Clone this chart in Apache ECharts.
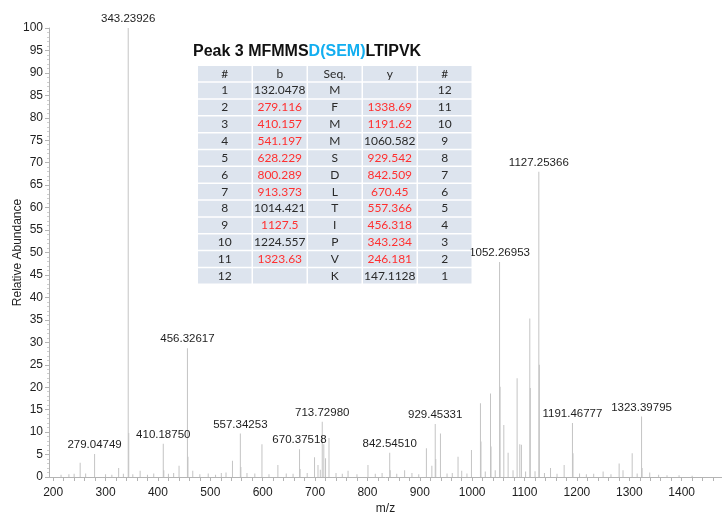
<!DOCTYPE html>
<html>
<head>
<meta charset="utf-8">
<title>Peak 3 MS/MS spectrum</title>
<script src="https://cdn.jsdelivr.net/npm/echarts@6/dist/echarts.min.js"></script>
<style>
  html, body { margin: 0; padding: 0; background: #fff; }
  #chart { width: 722px; height: 514px; }
</style>
</head>
<body>
<div id="chart"></div>
<script>
// labelled peaks (m/z, relative abundance)
const labelledMz = [279.04749, 343.23926, 410.18750, 456.32617, 557.34253, 670.37518, 713.72980,
  842.54510, 929.45331, 1052.26953, 1127.25366, 1191.46777, 1323.39795];
const labelledInt = [5.1, 100, 7.4, 28.7, 9.7, 6.2, 12.3, 5.4, 11.8, 47.9, 68, 12, 13.5];

// unlabelled peaks
const otherMz = [215, 230, 240, 251.5, 262, 300, 312, 325, 334, 344.24, 352, 366, 380, 392, 411.19,
  420, 430, 440.3, 457.33, 466.5, 480, 496, 510, 521, 530, 542.3, 558.35, 570, 585, 598.6, 612, 629,
  645, 658, 671.4, 685, 699, 705.6, 710, 716.7, 720, 726.6, 740, 752, 763, 780, 801, 815, 828, 843.5,
  856, 871, 885, 898, 912.6, 923, 930.45, 939.4, 952, 962, 973, 980, 990, 998.6, 1015.8, 1016.8, 1025,
  1035, 1036, 1044, 1053.27, 1060.4, 1068.6, 1078, 1085.8, 1090.9, 1094, 1102, 1110, 1111, 1120,
  1128.25, 1138, 1149.6, 1162, 1175.6, 1192.5, 1205, 1218, 1232, 1250, 1265, 1280.6, 1288, 1305.5,
  1315, 1324.4, 1339, 1356, 1372, 1395, 1420];
const otherInt = [0.5, 0.6, 0.7, 3.2, 0.8, 0.6, 0.5, 2.0, 0.7, 9.8, 0.6, 1.4, 0.5, 0.8, 1.5,
  0.7, 0.9, 2.5, 4.5, 1.4, 0.6, 0.8, 0.5, 0.9, 1.0, 3.6, 2.2, 0.9, 0.8, 7.3, 0.6, 2.7,
  0.8, 0.7, 1.8, 0.9, 4.4, 2.7, 1.6, 7.3, 4.2, 8.7, 0.9, 0.7, 1.4, 0.6, 2.7, 0.7, 0.9, 1.5,
  0.7, 1.5, 0.9, 0.6, 6.4, 2.5, 4.0, 9.7, 0.8, 0.9, 4.5, 1.4, 0.8, 6.0, 16.4, 7.9, 1.2,
  18.6, 6.8, 1.5, 20.1, 11.6, 5.4, 1.5, 22, 7.3, 7.2, 1.2, 35.3, 19.8, 1.3,
  25, 0.9, 2.0, 0.7, 2.7, 5.3, 0.8, 0.6, 0.7, 1.2, 0.6, 3.0, 1.5, 5.3,
  0.8, 2.0, 1.0, 0.5, 0.4, 0.4, 0.3];

// axis ticks
const xLabelTicks = [200, 300, 400, 500, 600, 700, 800, 900, 1000, 1100, 1200, 1300, 1400];
const xMinorTicks = [];
for (let v = 200; v <= 1460; v += 20) xMinorTicks.push(v);

// fragment table
const tableHeader = ['#', 'b', 'Seq.', 'y', '#'];
const rowNo = [1, 2, 3, 4, 5, 6, 7, 8, 9, 10, 11, 12];
const bIons = ['132.0478', '279.116', '410.157', '541.197', '628.229', '800.289', '913.373',
  '1014.421', '1127.5', '1224.557', '1323.63', ''];
const residues = ['M', 'F', 'M', 'M', 'S', 'D', 'L', 'T', 'I', 'P', 'V', 'K'];
const yIons = ['', '1338.69', '1191.62', '1060.582', '929.542', '842.509', '670.45', '557.366',
  '456.318', '343.234', '246.181', '147.1128'];
const yNo = [12, 11, 10, 9, 8, 7, 6, 5, 4, 3, 2, 1];
const bMatched = [0, 1, 1, 1, 1, 1, 1, 0, 1, 0, 1, 0];
const yMatched = [0, 1, 1, 0, 1, 1, 1, 1, 1, 1, 1, 0];

const chart = echarts.init(document.getElementById('chart'));

const labelFont = '"Liberation Sans", Arial, sans-serif';

// 峰数据
const peakData = [];
otherMz.forEach((mz, i) => peakData.push({ value: [mz, otherInt[i]] }));
labelledMz.forEach((mz, i) => peakData.push({
  value: [mz, labelledInt[i]],
  label: { show: true, formatter: mz.toFixed(5) }
}));

// 表格 graphic
const tableGraphic = [];
const tLeft = 198, tTop = 66, colW = 55, rowH = 16.85;
const cellFill = '#dde4ee';
const red = '#ff3030', dark = '#2a2a2a';
const rows = [tableHeader.map(t => ({ t, c: dark }))];
rowNo.forEach((n, i) => {
  rows.push([
    { t: String(n), c: dark },
    { t: bIons[i], c: bMatched[i] ? red : dark },
    { t: residues[i], c: dark },
    { t: yIons[i], c: yMatched[i] ? red : dark },
    { t: String(yNo[i]), c: dark }
  ]);
});
rows.forEach((row, r) => {
  row.forEach((cell, c) => {
    tableGraphic.push({
      type: 'rect',
      shape: { x: tLeft + c * colW, y: tTop + r * rowH, width: colW - 1.5, height: rowH - 1.5 },
      style: { fill: cellFill },
      z: 10
    });
    tableGraphic.push({
      type: 'text',
      x: tLeft + c * colW + (colW - 1.5) / 2,
      y: tTop + r * rowH + (rowH - 1.5) / 2,
      style: {
        text: cell.t,
        fill: cell.c,
        font: '12px Lato, "Open Sans", sans-serif',
        align: 'center',
        verticalAlign: 'middle'
      },
      z: 11
    });
  });
});

tableGraphic.push({
  type: 'text',
  x: 193,
  y: 52,
  style: {
    text: '{a|Peak 3 MFMMS}{b|D(SEM)}{a|LTIPVK}',
    verticalAlign: 'middle',
    rich: {
      a: { fontFamily: 'Liberation Sans, Arial, sans-serif', fontSize: 16, fontWeight: 'bold', fill: '#111' },
      b: { fontFamily: 'Liberation Sans, Arial, sans-serif', fontSize: 16, fontWeight: 'bold', fill: '#12aef0' }
    }
  },
  z: 11
});

const axisGray = '#b4b4b4';
const textColor = '#1e1e1e';

const option = {
  animation: false,
  backgroundColor: '#fff',
  textStyle: { fontFamily: labelFont },
  grid: { left: 49, right: 0, top: 28, bottom: 37, containLabel: false, outerBoundsMode: 'none' },
  xAxis: {
    type: 'value',
    min: 192,
    max: 1477,
    name: 'm/z',
    nameLocation: 'middle',
    nameGap: 26,
    nameMoveOverlap: false,
    nameTextStyle: { color: textColor, fontSize: 12, fontFamily: labelFont },
    axisLine: { show: true, lineStyle: { color: axisGray, width: 1 } },
    axisTick: { show: true, customValues: xMinorTicks, length: 4, lineStyle: { color: axisGray } },
    axisLabel: {
      customValues: xLabelTicks,
      color: textColor,
      fontSize: 12,
      fontFamily: labelFont,
      margin: 10,
      formatter: (v) => String(v)
    },
    splitLine: { show: false }
  },
  yAxis: {
    type: 'value',
    min: 0,
    max: 100,
    interval: 5,
    name: 'Relative Abundance',
    nameLocation: 'middle',
    nameGap: 25,
    nameMoveOverlap: false,
    nameTextStyle: { color: textColor, fontSize: 12, fontFamily: labelFont },
    axisLine: { show: true, lineStyle: { color: axisGray, width: 1 } },
    axisTick: { show: true, length: 4, lineStyle: { color: axisGray } },
    minorTick: { show: true, splitNumber: 5, length: 2, lineStyle: { color: '#cfcfcf' } },
    axisLabel: { color: textColor, fontSize: 12, fontFamily: labelFont, margin: 6 },
    splitLine: { show: false }
  },
  series: [
    {
      type: 'bar',
      barWidth: 1,
      data: peakData,
      itemStyle: { color: '#c4c4c4' },
      label: {
        show: false,
        position: 'top',
        distance: 3,
        color: textColor,
        fontSize: 11.5,
        fontFamily: labelFont
      },
      z: 2
    }
  ],
  graphic: tableGraphic
};

chart.setOption(option);
</script>
</body>
</html>
